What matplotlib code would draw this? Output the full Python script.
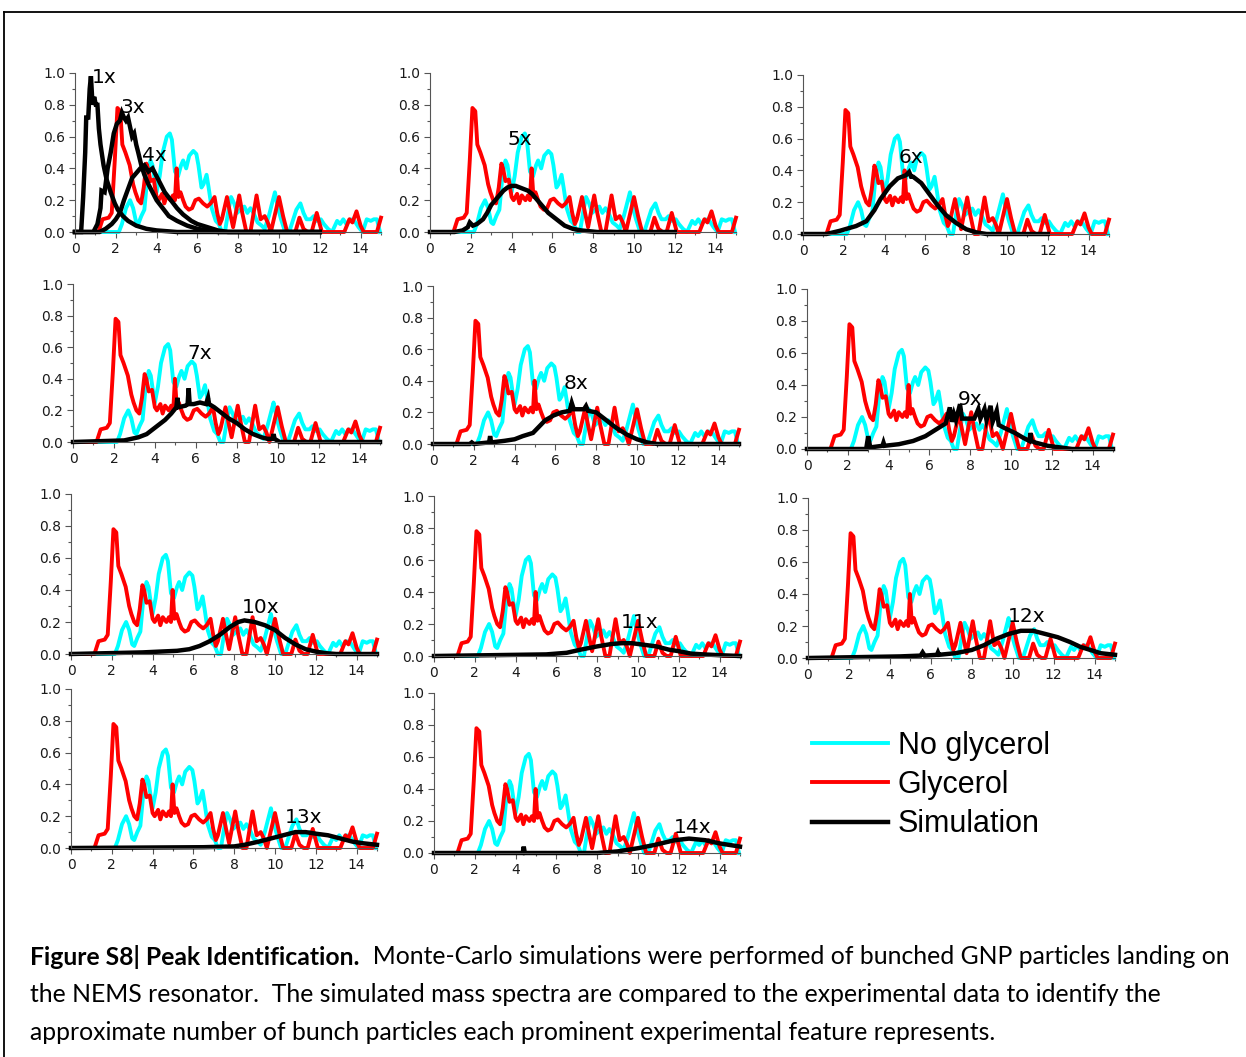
import numpy as np
import matplotlib.pyplot as plt
from matplotlib.lines import Line2D
from matplotlib.ticker import MultipleLocator

W, H = 1246, 1057

# Experimental spectra (same in every panel)
noglyc_x = [0, 2.15, 2.3, 2.5, 2.7, 2.85, 3.0, 3.1, 3.25, 3.4, 3.55, 3.7, 3.8, 3.9, 4.0,
            4.15, 4.3, 4.5, 4.65, 4.75, 4.9, 5.05, 5.2, 5.3, 5.45, 5.6, 5.8, 5.95, 6.05,
            6.2, 6.3, 6.45, 6.55, 6.7, 6.9, 7.05, 7.2, 7.35, 7.5, 7.65, 7.8, 7.95, 8.1,
            8.3, 8.45, 8.6, 8.75, 8.95, 9.15, 9.3, 9.5, 9.7, 9.8, 9.95, 10.1, 10.3, 10.5,
            10.7, 10.85, 11.05, 11.2, 11.35, 11.55, 11.7, 11.85, 12.05, 12.2, 12.4, 12.6,
            12.85, 13.0, 13.15, 13.3, 13.5, 13.7, 13.9, 14.1, 14.3, 14.5, 14.65, 14.8, 14.95]
noglyc_y = [0, 0, 0.05, 0.15, 0.2, 0.15, 0.06, 0.05, 0.1, 0.14, 0.35, 0.45, 0.42, 0.33, 0.25,
            0.35, 0.5, 0.6, 0.62, 0.58, 0.38, 0.35, 0.42, 0.45, 0.4, 0.48, 0.51, 0.49, 0.42,
            0.28, 0.3, 0.36, 0.28, 0.15, 0.07, 0.05, 0.0, 0.0, 0.12, 0.22, 0.18, 0.12, 0.14,
            0.16, 0.12, 0.15, 0.12, 0.06, 0.04, 0.02, 0.1, 0.2, 0.25, 0.15, 0.08, 0.0, 0.0,
            0.08, 0.14, 0.18, 0.12, 0.08, 0.08, 0.1, 0.07, 0.08, 0.05, 0.02, 0.0,
            0.07, 0.05, 0.08, 0.05, 0.08, 0.07, 0.03, 0.0, 0.08, 0.07, 0.08, 0.08, 0.0]

glyc_x = [0, 1.15, 1.35, 1.65, 1.8, 1.95, 2.08, 2.22, 2.32, 2.47, 2.68, 2.85, 2.96, 3.1, 3.24,
          3.37, 3.5, 3.58, 3.7, 3.86, 4.0, 4.1, 4.27, 4.38, 4.5, 4.68, 4.8, 4.9, 4.98, 5.07,
          5.17, 5.3, 5.42, 5.58, 5.74, 5.9, 6.07, 6.28, 6.48, 6.65, 6.84, 6.97, 7.1, 7.2,
          7.45, 7.6, 7.75, 8.05, 8.2, 8.4, 8.6, 8.9, 9.1, 9.3, 9.45, 9.6, 10.0, 10.2, 10.4,
          10.8, 11.0, 11.2, 11.4, 11.6, 11.85, 12.1, 13.2, 13.45, 13.6, 13.8, 14.0, 14.15,
          14.8, 15.0]
glyc_y = [0, 0, 0.08, 0.09, 0.12, 0.45, 0.78, 0.76, 0.55, 0.5, 0.42, 0.3, 0.25, 0.2, 0.18,
          0.28, 0.43, 0.4, 0.32, 0.33, 0.22, 0.2, 0.24, 0.18, 0.23, 0.2, 0.23, 0.2, 0.4, 0.22,
          0.25, 0.2, 0.16, 0.14, 0.15, 0.2, 0.21, 0.18, 0.16, 0.18, 0.22, 0.12, 0.05, 0.08,
          0.22, 0.12, 0.03, 0.23, 0.12, 0.0, 0.0, 0.23, 0.08, 0.1, 0.06, 0.0, 0.22, 0.1, 0.0,
          0.0, 0.09, 0.02, 0.0, 0.0, 0.12, 0.0, 0.0, 0.08, 0.06, 0.13, 0.04, 0.0,
          0.0, 0.09]

# Monte-Carlo simulated spectra, one per bunch size
sim_1x_x = [0, 0.3, 0.4, 0.5, 0.55, 0.65, 0.72, 0.78, 0.86, 0.94, 1.02, 1.1, 1.17, 1.25,
            1.4, 1.55, 1.75, 1.95, 2.1, 2.35, 2.6, 3.0, 3.5, 4.0, 5.0, 12.0]
sim_1x_y = [0, 0, 0.22, 0.5, 0.72, 0.72, 0.9, 0.98, 0.8, 0.85, 0.8, 0.8, 0.65, 0.55,
            0.42, 0.33, 0.25, 0.18, 0.14, 0.1, 0.07, 0.04, 0.02, 0.01, 0.0, 0.0]
sim_3x_x = [0, 0.9, 1.1, 1.25, 1.3, 1.45, 1.6, 1.75, 1.9, 2.05, 2.2, 2.3, 2.4, 2.5, 2.6,
            2.7, 2.8, 2.9, 3.0, 3.1, 3.25, 3.4, 3.6, 3.8, 4.0, 4.3, 4.6, 5.0, 5.5, 6.0, 7.0, 12.0]
sim_3x_y = [0, 0, 0.05, 0.15, 0.26, 0.25, 0.4, 0.5, 0.62, 0.68, 0.7, 0.75, 0.72, 0.7, 0.72,
            0.66, 0.6, 0.62, 0.55, 0.5, 0.42, 0.36, 0.3, 0.25, 0.2, 0.15, 0.1, 0.07, 0.04, 0.02, 0.0, 0.0]
sim_4x_x = [0, 1.2, 1.5, 1.8, 2.0, 2.2, 2.4, 2.6, 2.8, 3.0, 3.2, 3.4, 3.6, 3.8, 4.0, 4.2,
            4.4, 4.7, 5.0, 5.3, 5.7, 6.0, 6.5, 7.0, 7.5, 12.0]
sim_4x_y = [0, 0, 0.02, 0.05, 0.08, 0.12, 0.2, 0.27, 0.34, 0.37, 0.4, 0.42, 0.38, 0.4, 0.35, 0.3,
            0.25, 0.2, 0.15, 0.11, 0.07, 0.05, 0.03, 0.01, 0.0, 0.0]
sim_5x_x = [0, 1.2, 1.6, 1.85, 1.95, 2.1, 2.3, 2.6, 2.8, 3.0, 3.2, 3.4, 3.6, 3.8, 4.0, 4.2,
            4.4, 4.6, 4.8, 5.0, 5.2, 5.4, 5.6, 5.8, 6.0, 6.3, 6.6, 7.0, 7.4, 7.8, 8.2, 12.0]
sim_5x_y = [0, 0, 0.01, 0.03, 0.06, 0.04, 0.05, 0.08, 0.12, 0.17, 0.2, 0.23, 0.26, 0.28, 0.29, 0.29,
            0.28, 0.27, 0.26, 0.24, 0.21, 0.18, 0.15, 0.12, 0.1, 0.07, 0.04, 0.02, 0.01, 0.005, 0, 0]
sim_6x_x = [0, 1.15, 1.8, 2.6, 3.1, 3.5, 3.8, 4.25, 4.65, 5.05, 5.2, 5.3, 5.4, 5.8, 6.2,
            6.6, 7.0, 7.5, 8.0, 8.5, 9.0, 12.0]
sim_6x_y = [0, 0.0, 0.02, 0.05, 0.08, 0.15, 0.22, 0.3, 0.35, 0.37, 0.39, 0.36, 0.36, 0.32, 0.25,
            0.18, 0.12, 0.07, 0.03, 0.01, 0, 0]
sim_7x_x = [0, 2.5, 3.2, 3.6, 4.0, 4.5, 4.8, 5.05, 5.1, 5.15, 5.5, 5.6, 5.65, 5.7, 5.9, 6.2,
            6.5, 6.6, 6.65, 6.9, 7.2, 7.6, 8.0, 8.4, 8.8, 9.2, 9.5, 9.75, 9.8, 9.85, 10.1, 15.0]
sim_7x_y = [0, 0.01, 0.03, 0.05, 0.09, 0.14, 0.18, 0.22, 0.28, 0.22, 0.23, 0.24, 0.34, 0.24, 0.24, 0.25,
            0.24, 0.28, 0.24, 0.22, 0.19, 0.15, 0.12, 0.08, 0.05, 0.03, 0.02, 0.02, 0.05, 0.02, 0, 0]
sim_8x_x = [0, 1.8, 1.9, 2.0, 2.75, 2.8, 2.85, 3.5, 4.0, 4.4, 4.9, 5.2, 5.5, 5.9, 6.3, 6.7,
            6.8, 6.9, 7.1, 7.4, 7.5, 7.6, 8.0, 8.5, 9.0, 9.5, 10.0, 10.5, 11.0, 15.0]
sim_8x_y = [0, 0, 0.01, 0, 0.01, 0.05, 0.01, 0.02, 0.03, 0.05, 0.07, 0.11, 0.15, 0.18, 0.2, 0.21,
            0.26, 0.22, 0.22, 0.22, 0.24, 0.21, 0.2, 0.15, 0.1, 0.06, 0.03, 0.01, 0, 0]
sim_9x_x = [0, 2.9, 3.0, 3.1, 3.7, 3.75, 3.8, 4.5, 5.2, 5.8, 6.3, 6.8, 7.0, 7.1, 7.2, 7.3,
            7.5, 7.6, 7.7, 8.2, 8.4, 8.5, 8.7, 8.8, 9.0, 9.1, 9.3, 9.4, 9.7, 10.2, 10.6,
            10.9, 10.95, 11.0, 11.2, 11.8, 12.4, 13.0, 15.0]
sim_9x_y = [0, 0.0, 0.08, 0.01, 0.02, 0.04, 0.02, 0.03, 0.05, 0.08, 0.12, 0.16, 0.26, 0.17, 0.22, 0.18,
            0.28, 0.19, 0.19, 0.19, 0.25, 0.19, 0.25, 0.18, 0.27, 0.17, 0.24, 0.15, 0.13, 0.1, 0.07,
            0.05, 0.1, 0.05, 0.04, 0.02, 0.01, 0, 0]
sim_10x_x = [0, 3.5, 5.2, 5.8, 6.3, 6.8, 7.3, 7.8, 8.2, 8.5, 9.0, 9.5, 10.0, 10.5, 11.0,
             11.5, 12.0, 12.5, 13.0, 15.0]
sim_10x_y = [0, 0.01, 0.02, 0.03, 0.05, 0.08, 0.12, 0.17, 0.2, 0.21, 0.2, 0.18, 0.15, 0.1, 0.06,
             0.03, 0.015, 0.005, 0, 0]
sim_11x_x = [0, 5.5, 6.5, 7.2, 8.0, 8.7, 9.2, 9.7, 10.3, 10.9, 11.5, 12.0, 12.6, 13.2, 14.0, 15.0]
sim_11x_y = [0, 0.01, 0.02, 0.04, 0.06, 0.075, 0.08, 0.08, 0.07, 0.06, 0.04, 0.03, 0.015, 0.01, 0.005, 0]
sim_12x_x = [0, 4.5, 5.5, 5.6, 5.7, 6.3, 6.35, 6.4, 7.2, 8.0, 8.6, 9.2, 9.8, 10.4, 11.0,
             11.6, 12.2, 12.8, 13.3, 13.8, 14.3, 15.0]
sim_12x_y = [0, 0.01, 0.015, 0.035, 0.015, 0.02, 0.035, 0.02, 0.03, 0.05, 0.08, 0.12, 0.15, 0.17, 0.17,
             0.15, 0.13, 0.1, 0.07, 0.05, 0.03, 0.02]
sim_13x_x = [0, 6.5, 8.0, 8.5, 9.2, 9.8, 10.4, 11.0, 11.5, 12.0, 12.6, 13.2, 13.8, 14.3, 15.0]
sim_13x_y = [0, 0.005, 0.01, 0.02, 0.04, 0.06, 0.08, 0.1, 0.1, 0.09, 0.08, 0.06, 0.04, 0.03, 0.02]
sim_14x_x = [0, 4.35, 4.4, 4.45, 8.0, 9.0, 10.0, 10.8, 11.8, 12.5, 13.3, 14.0, 15.0]
sim_14x_y = [0, 0.0, 0.04, 0.0, 0.0, 0.01, 0.03, 0.05, 0.08, 0.09, 0.08, 0.06, 0.04]

# panel boxes in pixels: left, top, right, bottom
panels = [
    ((75, 73, 381, 232), [(sim_1x_x, sim_1x_y), (sim_3x_x, sim_3x_y), (sim_4x_x, sim_4x_y)],
     [("1x", 1.42, 0.97), ("3x", 2.84, 0.78), ("4x", 3.9, 0.48)]),
    ((430, 73, 736, 232), [(sim_5x_x, sim_5x_y)], [("5x", 4.4, 0.58)]),
    ((803, 75, 1109, 234), [(sim_6x_x, sim_6x_y)], [("6x", 5.3, 0.48)]),
    ((73, 284, 380, 442), [(sim_7x_x, sim_7x_y)], [("7x", 6.2, 0.56)]),
    ((433, 286, 739, 444), [(sim_8x_x, sim_8x_y)], [("8x", 7.0, 0.38)]),
    ((807, 289, 1113, 449), [(sim_9x_x, sim_9x_y)], [("9x", 8.0, 0.31)]),
    ((71, 494, 377, 654), [(sim_10x_x, sim_10x_y)], [("10x", 9.3, 0.29)]),
    ((434, 496, 740, 656), [(sim_11x_x, sim_11x_y)], [("11x", 10.1, 0.21)]),
    ((808, 498, 1115, 658), [(sim_12x_x, sim_12x_y)], [("12x", 10.7, 0.26)]),
    ((71, 689, 377, 848), [(sim_13x_x, sim_13x_y)], [("13x", 11.4, 0.19)]),
    ((434, 693, 740, 853), [(sim_14x_x, sim_14x_y)], [("14x", 12.7, 0.16)]),
]

CYAN = "#00ffff"
RED = "#ff0000"
LW = 2.8

fig = plt.figure(figsize=(W / 100, H / 100), dpi=100)

handles = None
for (l, t, r, b), sims, labels in panels:
    ax = fig.add_axes([l / W, 1 - b / H, (r - l) / W, (b - t) / H])
    h1, = ax.plot(noglyc_x, noglyc_y, color=CYAN, lw=LW, clip_on=False, solid_joinstyle="round")
    h2, = ax.plot(glyc_x, glyc_y, color=RED, lw=LW, clip_on=False, solid_joinstyle="round")
    for sx, sy in sims:
        h3, = ax.plot(sx, sy, color="black", lw=3.2, clip_on=False, solid_joinstyle="miter")
    for txt, tx, ty in labels:
        ax.text(tx, ty, txt, fontsize=14.5, ha="center", va="center", family="DejaVu Sans")
    if handles is None:
        handles = [h1, h2, h3]

    ax.set_xlim(0, 15)
    ax.set_ylim(0, 1.0)
    ax.patch.set_visible(False)
    for s in ("top", "right"):
        ax.spines[s].set_visible(False)
    for s in ("left", "bottom"):
        ax.spines[s].set_color("#555555")
        ax.spines[s].set_linewidth(0.8)
    ax.xaxis.set_minor_locator(MultipleLocator(1))
    ax.yaxis.set_minor_locator(MultipleLocator(0.1))
    ax.set_xticks(np.arange(0, 15, 2))
    ax.set_yticks(np.arange(0, 1.01, 0.2))
    ax.set_yticklabels([f"{v:.1f}" for v in np.arange(0, 1.01, 0.2)])
    ax.tick_params(which="major", length=4, width=0.8, color="#555555",
                   labelsize=10, labelcolor="#1a1a1a", pad=3)
    ax.tick_params(which="minor", length=2, width=0.8, color="#555555")

fig.legend(handles, ["No glycerol", "Glycerol", "Simulation"],
           loc="upper left", bbox_to_anchor=(812 / W, 1 - 731 / H),
           frameon=False, borderpad=0, borderaxespad=0,
           prop={"family": "Liberation Sans", "size": 22},
           handlelength=2.5, handletextpad=0.3, labelspacing=0.3)

# outer frame
fig.add_artist(Line2D([4 / W, 1], [1 - 12 / H, 1 - 12 / H], color="black", lw=1.3))
fig.add_artist(Line2D([4 / W, 4 / W], [0, 1 - 12 / H], color="black", lw=1.3))

# caption
cap_font = {"family": "Lato", "size": 17.8, "color": "black"}
renderer = fig.canvas.get_renderer()
bold = fig.text(30 / W, 1 - 957 / H, "Figure S8| Peak Identification.",
                fontweight="bold", va="center", **cap_font)
bb = bold.get_window_extent(renderer)
fig.text(bb.x1 / W, 1 - 957 / H,
         "  Monte-Carlo simulations were performed of bunched GNP particles landing on",
         va="center", **cap_font)
fig.text(30 / W, 1 - 995 / H,
         "the NEMS resonator.  The simulated mass spectra are compared to the experimental data to identify the",
         va="center", **cap_font)
fig.text(30 / W, 1 - 1032 / H,
         "approximate number of bunch particles each prominent experimental feature represents.",
         va="center", **cap_font)

fig.savefig("out.png", dpi=100)
